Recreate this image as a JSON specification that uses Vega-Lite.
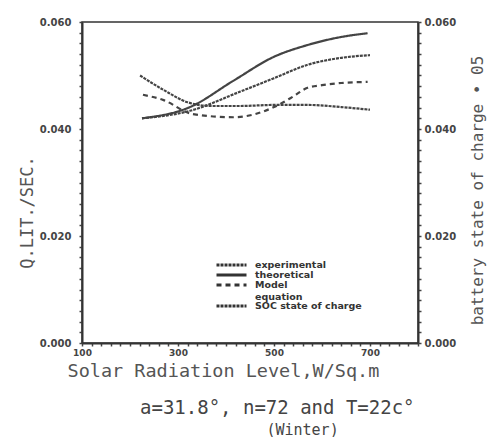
{
  "$schema": "https://vega.github.io/schema/vega-lite/v6.json",
  "width": 336,
  "height": 321,
  "autosize": {"type": "none"},
  "padding": {"left": 82, "top": 22, "right": 73, "bottom": 94},
  "config": {
    "view": {"stroke": "#333", "strokeWidth": 1.5},
    "font": "DejaVu Sans"
  },
  "title": {
    "text": "a=31.8°, n=72 and T=22c°",
    "subtitle": "\u200b\u00a0\u00a0\u00a0\u00a0\u00a0\u00a0\u00a0\u00a0\u00a0\u00a0\u00a0\u00a0\u00a0\u00a0(Winter)",
    "orient": "bottom",
    "anchor": "start",
    "frame": "group",
    "align": "left",
    "dx": 58,
    "offset": 19,
    "font": "DejaVu Sans Mono",
    "fontSize": 19,
    "fontWeight": "normal",
    "color": "#444",
    "subtitleFont": "DejaVu Sans Mono",
    "subtitleFontSize": 15,
    "subtitleColor": "#444",
    "subtitlePadding": 5
  },
  "datasets": {
    "curves": [
      {"series": "theoretical", "radiation": 225, "q": 0.042},
      {"series": "theoretical", "radiation": 325, "q": 0.0441},
      {"series": "theoretical", "radiation": 415, "q": 0.049},
      {"series": "theoretical", "radiation": 500, "q": 0.0535},
      {"series": "theoretical", "radiation": 570, "q": 0.0557},
      {"series": "theoretical", "radiation": 640, "q": 0.0572},
      {"series": "theoretical", "radiation": 695, "q": 0.0579},
      {"series": "experimental", "radiation": 225, "q": 0.042},
      {"series": "experimental", "radiation": 325, "q": 0.0434},
      {"series": "experimental", "radiation": 430, "q": 0.047},
      {"series": "experimental", "radiation": 500, "q": 0.0495},
      {"series": "experimental", "radiation": 570, "q": 0.052},
      {"series": "experimental", "radiation": 640, "q": 0.0533},
      {"series": "experimental", "radiation": 700, "q": 0.0538},
      {"series": "Model equation", "radiation": 227, "q": 0.0464},
      {"series": "Model equation", "radiation": 270, "q": 0.0454},
      {"series": "Model equation", "radiation": 330, "q": 0.0428},
      {"series": "Model equation", "radiation": 415, "q": 0.0422},
      {"series": "Model equation", "radiation": 500, "q": 0.0441},
      {"series": "Model equation", "radiation": 535, "q": 0.0458},
      {"series": "Model equation", "radiation": 570, "q": 0.0477},
      {"series": "Model equation", "radiation": 600, "q": 0.0482},
      {"series": "Model equation", "radiation": 640, "q": 0.0486},
      {"series": "Model equation", "radiation": 695, "q": 0.0488}
    ],
    "soc": [
      {"series": "SOC state of charge", "radiation": 221, "soc": 0.050},
      {"series": "SOC state of charge", "radiation": 270, "soc": 0.0473},
      {"series": "SOC state of charge", "radiation": 320, "soc": 0.045},
      {"series": "SOC state of charge", "radiation": 370, "soc": 0.0443},
      {"series": "SOC state of charge", "radiation": 430, "soc": 0.0443},
      {"series": "SOC state of charge", "radiation": 500, "soc": 0.0445},
      {"series": "SOC state of charge", "radiation": 570, "soc": 0.0445},
      {"series": "SOC state of charge", "radiation": 640, "soc": 0.0441},
      {"series": "SOC state of charge", "radiation": 700, "soc": 0.0436}
    ]
  },
  "encoding": {
    "x": {
      "field": "radiation", "type": "quantitative",
      "scale": {"domain": [100, 800], "nice": false, "zero": false},
      "axis": {
        "values": [100,120,140,160,180,200,220,240,260,280,300,320,340,360,380,400,420,440,460,480,500,520,540,560,580,600,620,640,660,680,700,720,740,760,780,800],
        "labelExpr": "(datum.value == 100 || datum.value == 300 || datum.value == 500 || datum.value == 700) ? datum.value : ''",
        "labelOverlap": false,
        "labelFlush": false,
        "labelFontSize": 9,
        "labelFontWeight": "bold",
        "labelColor": "#444",
        "tickSize": 3,
        "tickWidth": 1.5,
        "tickColor": "#444",
        "domainColor": "#333",
        "domainWidth": 2,
        "grid": false,
        "title": "Solar Radiation Level,W/Sq.m",
        "titleFont": "DejaVu Sans Mono",
        "titleFontSize": 18.5,
        "titleFontWeight": "normal",
        "titleColor": "#555",
        "titleAnchor": "start",
        "titleX": -15,
        "titlePadding": 4
      }
    },
    "strokeDash": {
      "field": "series", "type": "nominal",
      "scale": {
        "domain": ["experimental", "theoretical", "Model equation", "SOC state of charge"],
        "range": [[3, 1], [1, 0], [5, 4], [3, 1]]
      },
      "legend": {
        "orient": "none",
        "legendX": 133,
        "legendY": 239,
        "title": null,
        "symbolType": "stroke",
        "symbolSize": 900,
        "symbolStrokeWidth": 3,
        "symbolStrokeColor": "#333",
        "clipHeight": 8,
        "rowPadding": 0,
        "labelFontSize": 9.5,
        "labelFontWeight": "bold",
        "labelColor": "#333",
        "labelOffset": 7,
        "labelExpr": "datum.label == 'Model equation' ? ['Model', 'equation'] : datum.label"
      }
    }
  },
  "layer": [
    {
      "data": {"name": "curves"},
      "mark": {"type": "line", "interpolate": "monotone", "strokeWidth": 2.2, "color": "#444"},
      "encoding": {
        "y": {
          "field": "q", "type": "quantitative",
          "scale": {"domain": [0, 0.06], "nice": false, "zero": true},
          "axis": {
            "orient": "left",
            "values": [0,0.002,0.004,0.006,0.008,0.01,0.012,0.014,0.016,0.018,0.02,0.022,0.024,0.026,0.028,0.03,0.032,0.034,0.036,0.038,0.04,0.042,0.044,0.046,0.048,0.05,0.052,0.054,0.056,0.058,0.06],
            "labelExpr": "abs(datum.value*50 - round(datum.value*50)) < 0.01 ? format(datum.value, '.3f') : ''",
            "labelOverlap": false,
            "labelFlush": false,
            "labelFontSize": 10,
            "labelFontWeight": "bold",
            "labelColor": "#444",
            "labelPadding": 8,
            "tickSize": 3,
            "tickWidth": 1.5,
            "tickColor": "#444",
            "domainColor": "#333",
            "domainWidth": 2,
            "grid": false,
            "title": "Q.LIT./SEC.",
            "titleFont": "DejaVu Sans Mono",
            "titleFontSize": 17,
            "titleFontWeight": "normal",
            "titleColor": "#555",
            "titlePadding": 3,
            "titleY": 190
          }
        }
      }
    },
    {
      "data": {"name": "soc"},
      "mark": {"type": "line", "interpolate": "monotone", "strokeWidth": 2.2, "color": "#444"},
      "encoding": {
        "y": {
          "field": "soc", "type": "quantitative",
          "scale": {"domain": [0, 0.06], "nice": false, "zero": true},
          "axis": {
            "orient": "right",
            "values": [0,0.002,0.004,0.006,0.008,0.01,0.012,0.014,0.016,0.018,0.02,0.022,0.024,0.026,0.028,0.03,0.032,0.034,0.036,0.038,0.04,0.042,0.044,0.046,0.048,0.05,0.052,0.054,0.056,0.058,0.06],
            "labelExpr": "abs(datum.value*50 - round(datum.value*50)) < 0.01 ? format(datum.value, '.3f') : ''",
            "labelOverlap": false,
            "labelFlush": false,
            "labelFontSize": 10,
            "labelFontWeight": "bold",
            "labelColor": "#444",
            "labelPadding": 3,
            "tickSize": 3,
            "tickWidth": 1.5,
            "tickColor": "#444",
            "domainColor": "#333",
            "domainWidth": 2,
            "grid": false,
            "title": "battery state of charge • 05",
            "titleFont": "DejaVu Sans Mono",
            "titleFontSize": 16,
            "titleFontWeight": "normal",
            "titleColor": "#555",
            "titleAngle": 270,
            "titleBaseline": "top",
            "titlePadding": 14,
            "titleY": 168
          }
        }
      }
    }
  ],
  "resolve": {"scale": {"y": "independent"}, "axis": {"y": "independent"}}
}
